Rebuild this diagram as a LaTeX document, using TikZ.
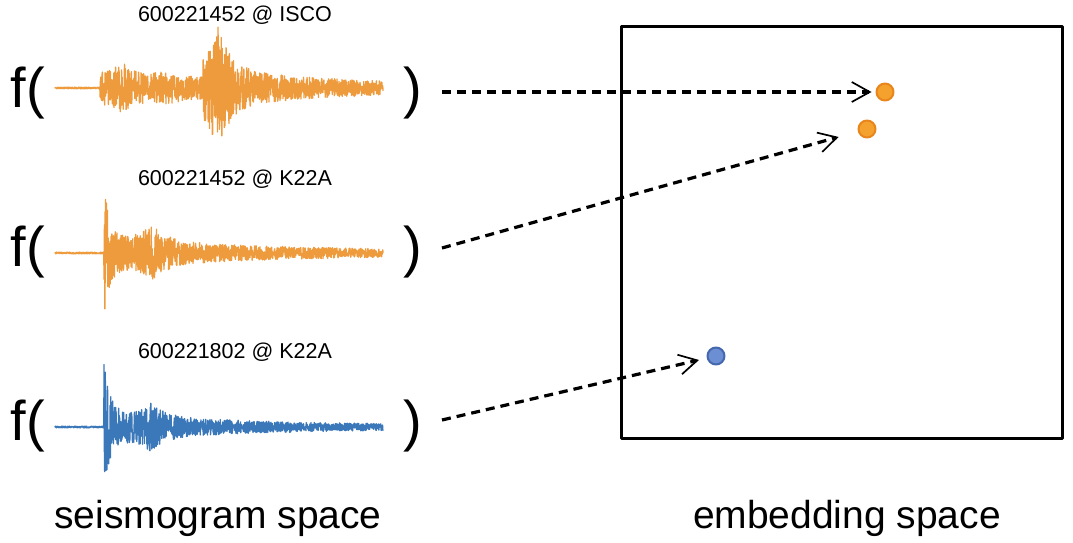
\documentclass[tikz,border=0pt]{standalone}
\usepackage{fontspec}
\setmainfont{Liberation Sans}
\usetikzlibrary{arrows.meta}
\definecolor{wvorange}{HTML}{EE9B3E}
\definecolor{wvblue}{HTML}{3B78B9}
\definecolor{dotorange}{HTML}{F5A12E}
\definecolor{dotorangeedge}{HTML}{E8861C}
\definecolor{dotblue}{HTML}{6C8ED2}
\definecolor{dotblueedge}{HTML}{4467AE}
\begin{document}
\begin{tikzpicture}[x=1pt, y=-1pt, line join=round, line cap=round,
  declare function={
    dk(\u)=exp(-min(max(\u,0),9));
    bp(\u)=exp(-min(abs(\u),9));
    envA(\t)=0.9+(\t>=100)*(15*dk((\t-100)/240)+13*bp((\t-122)/8)+5*bp((\t-165)/15))+(\t>=203)*(42*bp((\t-218)/12)+12*dk((\t-203)/90));
    envB(\t)=0.9+(\t>=104)*(52*dk((\t-104)/6)+14*dk((\t-104)/200)+17*bp((\t-152)/15));
    envC(\t)=0.9+(\t>=104)*(52*dk((\t-104)/6)+13*dk((\t-104)/170)+15*bp((\t-150)/14));
  },
  wave/.style={line width=1.3pt},
  fpar/.style={font=\fontsize{56}{60}\selectfont, inner sep=0},
  evlabel/.style={font=\fontsize{21.5}{25}\selectfont, inner sep=0, anchor=base},
  spacelbl/.style={font=\fontsize{39}{45}\selectfont, inner sep=0, anchor=base},
  arr/.style={line width=3.2pt, line cap=butt, dash pattern=on 9pt off 6pt,
    -{Straight Barb[length=18pt,width=20pt,line width=1.7pt]}},
  dot/.style={circle, minimum size=17pt, inner sep=0, line width=2pt}]
\useasboundingbox (0,0) rectangle (1073,543);
% seismograms
\node[evlabel] (lab1) at (235,22) {600221452 @ ISCO};
\node[evlabel] (lab2) at (235,185) {600221452 @ K22A};
\node[evlabel] (lab3) at (235,358) {600221802 @ K22A};
\node[fpar] (f1) at (28,93) {f(};
\node[fpar] (f2) at (28,252) {f(};
\node[fpar] (f3) at (28,426) {f(};
\node[fpar] (r1) at (413,93) {)};
\node[fpar] (r2) at (413,252) {)};
\node[fpar] (r3) at (413,426) {)};
\pgfmathsetseed{11}
\draw[wave, wvorange] plot[samples=1500, domain=55:383] (\x, {88+envA(\x)*rand});
\pgfmathsetseed{23}
\draw[wave, wvorange] plot[samples=1500, domain=55:383] (\x, {253+envB(\x)*rand});
\pgfmathsetseed{5}
\draw[wave, wvblue] plot[samples=1500, domain=55:383] (\x, {427+envC(\x)*rand});
\node[spacelbl] (seis) at (218,528) {seismogram space};
% embedding
\node[draw, line width=3pt, minimum width=441pt, minimum height=411pt, inner sep=0] (emb) at (841.5,232.5) {};
\node[spacelbl] (embl) at (847,528) {embedding space};
\node[dot, fill=dotorange, draw=dotorangeedge] (d1) at (885,92) {};
\node[dot, fill=dotorange, draw=dotorangeedge] (d2) at (867,129) {};
\node[dot, fill=dotblue, draw=dotblueedge] (d3) at (716,356) {};
\coordinate (s1) at (442,92);
\coordinate (s2) at (442,248);
\coordinate (s3) at (442,420);
\draw[arr, shorten >=4pt] (s1) -- (d1);
\draw[arr, shorten >=20pt] (s2) -- (d2);
\draw[arr, shorten >=8pt] (s3) -- (d3);
\end{tikzpicture}
\end{document}
